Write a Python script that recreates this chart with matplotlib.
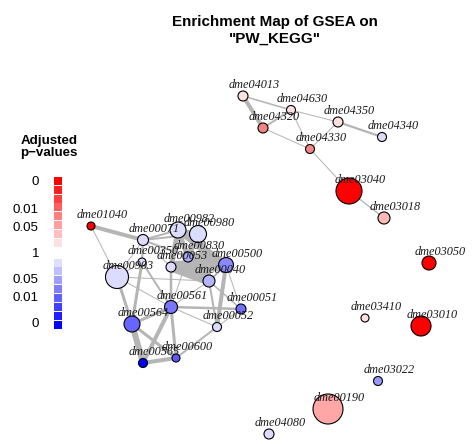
import matplotlib
matplotlib.use('Agg')
from matplotlib import pyplot as plt
from matplotlib.patches import Circle, Rectangle

### DATA
# layout position of every gene set (pixel-like layout units), node radius, fill colour
node_names = [
    'dme04013', 'dme04630', 'dme04320', 'dme04350', 'dme04340', 'dme04330', 'dme03040', 'dme03018',
    'dme03050', 'dme03410', 'dme03010', 'dme03022', 'dme00190', 'dme04080',
    'dme01040', 'dme00071', 'dme00982', 'dme00980', 'dme00830', 'dme00053', 'dme00350', 'dme00903',
    'dme00500', 'dme00040', 'dme00561', 'dme00051', 'dme00564', 'dme00052', 'dme00600', 'dme00565',
]
node_x = [243, 291, 263, 338, 382, 310, 349, 384,
          429, 365, 421, 378, 328, 269,
          91, 143, 178, 198, 188, 171, 142, 117,
          226, 209, 171, 241, 132, 217, 176, 143]
node_y = [96, 110, 128, 122, 137, 149, 191, 218,
          263, 318, 326, 381, 409, 434,
          226, 240, 230, 234, 257, 267, 262, 277,
          265, 281, 307, 309, 324, 327, 358, 363]
node_size = [5, 4.5, 5, 5, 4.5, 4.5, 13, 6,
             7, 4, 10, 4.5, 15, 5,
             4, 5.5, 8, 8.5, 5, 5, 4, 11.5,
             7.5, 6, 6.5, 5, 8, 4.5, 4, 4.5]
node_color = ['#FFE0E0', '#FFE0E0', '#F58585', '#FFE0E0', '#DCDCFF', '#F58585', '#FF0000', '#FFB8B8',
              '#FF0000', '#FFE0E0', '#FF0000', '#9999FF', '#FFA6A6', '#DCDCFF',
              '#FF0000', '#DCDCFF', '#DCDCFF', '#DCDCFF', '#AAAAFF', '#DCDCFF', '#DCDCFF', '#DCDCFF',
              '#8888FF', '#B4B4FF', '#7777FF', '#7070FF', '#6666FF', '#DCDCFF', '#5A5AFF', '#0000FF']

# edges: (from, to, overlap weight)
edges = [
    ('dme04013', 'dme04320', 4), ('dme04013', 'dme04630', 1.6), ('dme04630', 'dme04350', 1),
    ('dme04320', 'dme04630', 2), ('dme04320', 'dme04330', 1), ('dme04630', 'dme04330', 1),
    ('dme04350', 'dme04330', 1), ('dme04350', 'dme04340', 2.2), ('dme04330', 'dme03040', 1),
    ('dme03040', 'dme03018', 1.3),
    ('dme01040', 'dme00071', 4), ('dme01040', 'dme00903', 1),
    ('dme00071', 'dme00982', 2), ('dme00071', 'dme00980', 2), ('dme00071', 'dme00350', 2),
    ('dme00071', 'dme00903', 1), ('dme00071', 'dme00053', 1), ('dme00071', 'dme00830', 2),
    ('dme00982', 'dme00980', 4), ('dme00982', 'dme00830', 5), ('dme00980', 'dme00830', 5),
    ('dme00982', 'dme00500', 7), ('dme00980', 'dme00040', 7), ('dme00982', 'dme00053', 5),
    ('dme00830', 'dme00500', 12), ('dme00830', 'dme00040', 9),
    ('dme00053', 'dme00500', 12), ('dme00053', 'dme00040', 9),
    ('dme00500', 'dme00040', 2), ('dme00500', 'dme00052', 4), ('dme00500', 'dme00051', 1),
    ('dme00040', 'dme00052', 2), ('dme00040', 'dme00561', 1), ('dme00040', 'dme00051', 1.5),
    ('dme00903', 'dme00350', 1), ('dme00903', 'dme00040', 1), ('dme00903', 'dme00564', 3),
    ('dme00903', 'dme00561', 1), ('dme00350', 'dme00564', 3), ('dme00350', 'dme00561', 2),
    ('dme00053', 'dme00561', 2.5), ('dme00830', 'dme00561', 1),
    ('dme00561', 'dme00564', 3), ('dme00561', 'dme00565', 4), ('dme00561', 'dme00600', 3),
    ('dme00561', 'dme00051', 2.5), ('dme00561', 'dme00052', 1),
    ('dme00564', 'dme00565', 6), ('dme00564', 'dme00600', 3), ('dme00565', 'dme00600', 4),
    ('dme00600', 'dme00052', 2), ('dme00051', 'dme00052', 1),
]

# colour key
legend_red = ['#FF0000', '#FF1F1F', '#FF3F3F', '#FF5F5F', '#FF7F7F', '#FF9F9F', '#FFBFBF', '#FFDFDF']
legend_blue = ['#DFDFFF', '#BFBFFF', '#9F9FFF', '#7F7FFF', '#5F5FFF', '#3F3FFF', '#1F1FFF', '#0000FF']
legend_labels = ['0', '0.01', '0.05', '1', '0.05', '0.01', '0']
legend_label_y = [181.5, 209.5, 227.5, 253.5, 280, 297.5, 323.5]

title = 'Enrichment Map of GSEA on\n"PW_KEGG"'

### PLOT
fig = plt.figure(figsize=(4.74, 4.44), dpi=100)
ax = fig.add_axes([0, 0, 1, 1])
ax.set_xlim(0, 474)
ax.set_ylim(444, 0)
ax.set_aspect('equal')
ax.axis('off')

pos = {n: (x, y) for n, x, y in zip(node_names, node_x, node_y)}
px = 0.72  # points per pixel at 100 dpi

for a, b, w in edges:
    ax.plot([pos[a][0], pos[b][0]], [pos[a][1], pos[b][1]], color='#B5B5B5',
            lw=w * px, solid_capstyle='butt', zorder=1)

for n, x, y, r, c in zip(node_names, node_x, node_y, node_size, node_color):
    ax.add_patch(Circle((x, y), r, facecolor=c, edgecolor='black', lw=0.8, zorder=2))

for n, x, y in zip(node_names, node_x, node_y):
    ax.text(x + 11, y - 11, n, ha='center', va='center', fontsize=8.8, style='italic',
            family='Liberation Serif', color='#1a1a1a', zorder=3)

ax.text(275, 30, title, ha='center', va='center', fontsize=10.9, fontweight='bold',
        family='Liberation Sans', linespacing=1.25)

ax.text(49, 147, 'Adjusted\np\u2212values', ha='center', va='center', fontsize=9.6, fontweight='bold',
        family='Liberation Sans', linespacing=1.1)

for i, c in enumerate(legend_red):
    ax.add_patch(Rectangle((54, 177 + i * 8.8), 8, 8, facecolor=c, edgecolor='none'))
for i, c in enumerate(legend_blue):
    ax.add_patch(Rectangle((54, 258.5 + i * 8.9), 8, 8, facecolor=c, edgecolor='none'))
for lab, y in zip(legend_labels, legend_label_y):
    ax.text(39, y, lab, ha='right', va='center', fontsize=9.6, family='Liberation Sans')

fig.savefig('out.png', dpi=100)
